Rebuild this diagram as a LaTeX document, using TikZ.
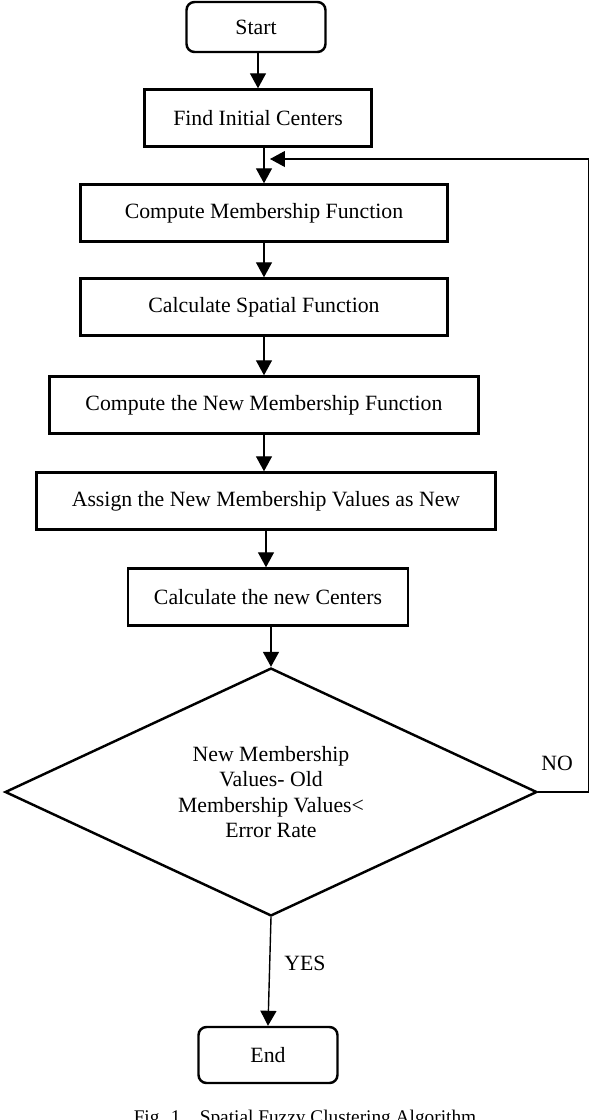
\documentclass[tikz,border=0pt]{standalone}
\usepackage{fontspec}
\setmainfont{Liberation Serif}
\usetikzlibrary{arrows.meta,shapes.geometric}

\begin{document}
\begin{tikzpicture}[x=0.02cm,y=-0.02cm,
 b/.style={rectangle,draw,line width=1.4pt,minimum height=1.14cm,font=\fontsize{12.4}{14.4}\selectfont},
 r/.style={b,rounded corners=.16cm},
 t/.style={font=\fontsize{12.4}{14.4}\selectfont},
 a/.style={-{Triangle[length=3mm,width=3.2mm]},line width=.8pt}]
\useasboundingbox (0,0) rectangle (592,1120);
\node[r,minimum width=2.78cm,minimum height=1cm] (s) at (256,27) {Start};
\node[b,minimum width=4.54cm] (f) at (258,118) {Find Initial Centers};
\node[b,minimum width=7.34cm] (m) at (264,213) {Compute Membership Function};
\node[b,minimum width=7.34cm] (sp) at (264,307) {Calculate Spatial Function};
\node[b,minimum width=8.58cm] (nm) at (264,405) {Compute the New Membership Function};
\node[b,minimum width=9.18cm] (av) at (266,501) {Assign the New Membership Values as New};
\node[b,minimum width=5.6cm] (c) at (268,597) {Calculate the new Centers};
\node[t,diamond,draw,line width=1.4pt,aspect=2.15,inner sep=0pt,minimum width=10.64cm,minimum height=4.96cm,align=center] (d) at (271,792)
 {New Membership\\Values- Old\\Membership Values<\\Error Rate};
\node[r,minimum width=2.78cm,minimum height=1.12cm] (e) at (268,1055) {End};
\node[t] (no) at (557,763) {NO};
\node[t] (yes) at (305,963) {YES};
\coordinate (k) at (270,159);
\draw[a] (s.south -| f.north)--(f.north);
\draw[a] (f.south -| m.north)--(m.north);
\draw[a] (m.south)--(m.south |- sp.north);
\draw[a] (sp.south)--(sp.south |- nm.north);
\draw[a] (nm.south)--(nm.south |- av.north);
\draw[a] (av.south)--(av.south |- c.north);
\draw[a] (c.south -| d.north)--(d.north);
\draw[a] (d.south)--(e.north);
\draw[a,line width=.6pt] (d.east)--++(50,0) |- (k);
% caption, cut off at the lower edge
\begin{scope}
\clip (0,1100) rectangle (592,1120);
\node[anchor=base,font=\fontsize{11}{13}\selectfont] (cap) at (305,1123) {Fig. 1.~~~Spatial Fuzzy Clustering Algorithm};
\end{scope}
\end{tikzpicture}
\end{document}
